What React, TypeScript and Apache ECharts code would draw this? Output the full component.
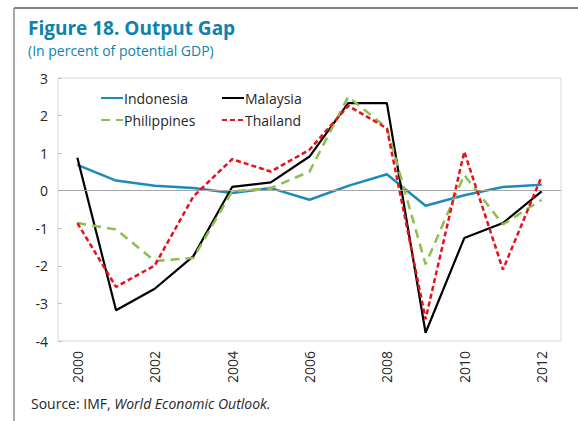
import React, { useEffect, useRef } from "react";
import * as echarts from "echarts";

const years = ["2000", "2001", "2002", "2003", "2004", "2005", "2006", "2007", "2008", "2009", "2010", "2011", "2012"];
const indonesia = [0.69, 0.27, 0.13, 0.07, -0.06, 0.07, -0.24, 0.13, 0.44, -0.4, -0.12, 0.1, 0.16];
const malaysia = [0.88, -3.18, -2.61, -1.74, 0.1, 0.22, 0.91, 2.33, 2.33, -3.78, -1.26, -0.86, -0.02];
const philippines = [-0.86, -1.03, -1.87, -1.79, -0.02, 0.07, 0.51, 2.5, 1.67, -1.96, 0.42, -0.9, -0.24];
const thailand = [-0.86, -2.56, -1.99, -0.15, 0.84, 0.51, 1.09, 2.26, 1.66, -3.42, 1.04, -2.1, 0.38];

const titleText = "Figure 18. Output Gap";
const subtitleText = "(In percent of potential GDP)";
const FONT = "'Open Sans', 'Noto Sans', sans-serif";
const TEAL = "#0e82ab";
const TXT = "#262626";

export default function App() {
  const ref = useRef<HTMLDivElement>(null);
  useEffect(() => {
    if (!ref.current) return;
    const chart = echarts.init(ref.current, null, { renderer: "svg" });
    const legendCommon = {
      orient: "vertical",
      top: 86,
      itemWidth: 22, itemHeight: 10, itemGap: 8,
      itemStyle: { opacity: 0 },
      textStyle: { fontFamily: FONT, fontSize: 14, color: TXT, padding: [0, 0, 0, -4] },
    };
    chart.setOption({
      animation: false,
      backgroundColor: "#ffffff",
      textStyle: { fontFamily: FONT },
      graphic: [
        { type: "line", shape: { x1: 14, y1: 8, x2: 578, y2: 8 }, style: { stroke: "#595959", lineWidth: 1.5 } },
        { type: "line", shape: { x1: 14, y1: 8, x2: 14, y2: 421 }, style: { stroke: "#8c8c8c", lineWidth: 1.5 } },
        {
          type: "text", left: 28, top: 18,
          style: { text: titleText, font: `bold 19px ${FONT}`, fill: TEAL },
        },
        {
          type: "text", left: 28, top: 43,
          style: { text: subtitleText, font: `14px ${FONT}`, fill: TEAL },
        },
        {
          type: "text", left: 31, top: 396,
          style: {
            rich: {
              n: { fontFamily: FONT, fontSize: 14, fill: TXT },
              i: { fontFamily: FONT, fontSize: 14, fontStyle: "italic", fill: TXT },
            },
            text: "{n|Source: IMF, }{i|World Economic Outlook.}",
          },
        },
      ],
      legend: [
        { ...legendCommon, data: ["Indonesia", "Philippines"], left: 95 },
        { ...legendCommon, data: ["Malaysia", "Thailand"], left: 216 },
      ],
      grid: {
        left: 58, top: 78, right: 17, bottom: 80,
        show: true, borderColor: "#d9d9d9", borderWidth: 1,
      },
      xAxis: {
        type: "category",
        data: years,
        boundaryGap: true,
        axisLine: { show: false },
        axisTick: { show: false },
        axisLabel: { interval: 1, rotate: 90, fontFamily: FONT, fontSize: 14, color: TXT, margin: 10 },
      },
      yAxis: {
        type: "value",
        min: -4, max: 3, interval: 1,
        axisLine: { show: false },
        axisTick: { show: true, inside: true, length: 4, lineStyle: { color: "#bfbfbf" } },
        splitLine: { show: false },
        axisLabel: { fontFamily: FONT, fontSize: 14, color: TXT, margin: 10 },
      },
      series: [
        {
          name: "Indonesia", type: "line", data: indonesia, symbol: "none",
          lineStyle: { color: "#1b8bbd", width: 2.5 }, itemStyle: { color: "#1b8bbd" },
          markLine: {
            silent: true, symbol: "none", label: { show: false },
            lineStyle: { color: "#a6a6a6", width: 1, type: "solid" },
            data: [{ yAxis: 0 }],
          },
          z: 3,
        },
        {
          name: "Malaysia", type: "line", data: malaysia, symbol: "none",
          lineStyle: { color: "#000000", width: 2.2 }, itemStyle: { color: "#000000" }, z: 4,
        },
        {
          name: "Philippines", type: "line", data: philippines, symbol: "none",
          lineStyle: { color: "#8dbf4f", width: 2.5, type: [9, 6] }, itemStyle: { color: "#8dbf4f" }, z: 5,
        },
        {
          name: "Thailand", type: "line", data: thailand, symbol: "none",
          lineStyle: { color: "#e8101c", width: 2.5, type: [5, 3] }, itemStyle: { color: "#e8101c" }, z: 6,
        },
      ],
    });
    return () => chart.dispose();
  }, []);
  return <div ref={ref} style={{ width: 578, height: 421, position: "absolute", left: 0, top: 0 }} />;
}
